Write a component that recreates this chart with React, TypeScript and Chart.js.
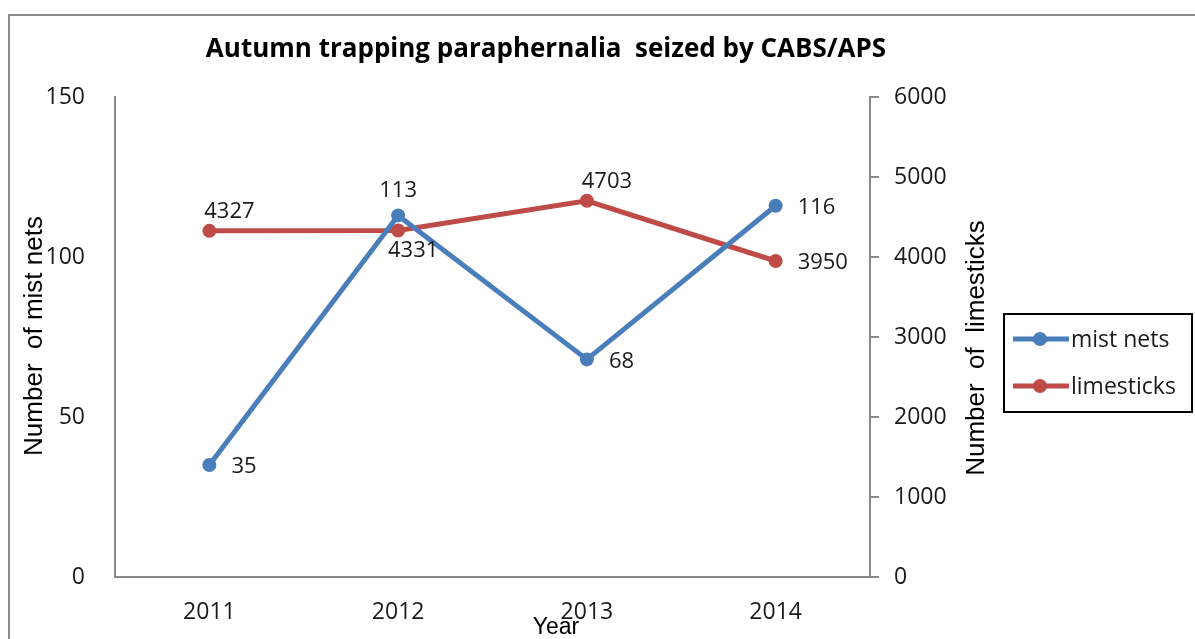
import React, { useEffect, useRef } from "react";
import { Chart, registerables } from "chart.js";

Chart.register(...registerables);

const years = ["2011", "2012", "2013", "2014"];
const mistNets = [35, 113, 68, 116];
const limesticks = [4327, 4331, 4703, 3950];
const mistNetsLabelPos = ["right", "above", "right", "right"];
const limesticksLabelPos = ["aboveRight", "belowRight", "aboveRight", "right"];

const TITLE = "Autumn trapping paraphernalia  seized by CABS/APS";
const LEFT_TITLE = "Number  of mist nets";
const RIGHT_TITLE = "Number  of  limesticks";
const X_TITLE = "Year";

const BLUE = "#4A7EBB";
const RED = "#BE4B48";
const AXIS = "#898989";
const TEXT = "#1a1a1a";
const TICK_FONT = "'Open Sans', 'Liberation Sans', sans-serif";

const overlay = {
  id: "overlay",
  afterDraw(chart: any) {
    const ctx = chart.ctx;
    ctx.save();
    // outer border
    ctx.strokeStyle = "#8c8c8c";
    ctx.lineWidth = 2;
    ctx.beginPath();
    ctx.moveTo(9, 660);
    ctx.lineTo(9, 15);
    ctx.lineTo(1210, 15);
    ctx.stroke();

    // title
    ctx.fillStyle = "#000";
    ctx.font = "bold 26px 'Open Sans', sans-serif";
    ctx.textAlign = "center";
    ctx.textBaseline = "middle";
    ctx.fillText(TITLE, 546, 50);

    // axis titles
    ctx.font = "26px 'Liberation Sans', Arial, sans-serif";
    ctx.save();
    ctx.translate(35, 336);
    ctx.rotate(-Math.PI / 2);
    ctx.fillText(LEFT_TITLE, 0, 0);
    ctx.restore();
    ctx.save();
    ctx.translate(977, 348);
    ctx.rotate(-Math.PI / 2);
    ctx.fillText(RIGHT_TITLE, 0, 0);
    ctx.restore();
    ctx.font = "23px 'Liberation Sans', Arial, sans-serif";
    ctx.fillText(X_TITLE, 556, 628);

    // data labels
    ctx.font = "22px " + TICK_FONT;
    ctx.fillStyle = TEXT;
    const drawLabels = (dsIndex: number, values: number[], pos: string[]) => {
      const meta = chart.getDatasetMeta(dsIndex);
      meta.data.forEach((pt: any, i: number) => {
        const p = pos[i];
        const txt = String(values[i]);
        if (p === "right") {
          ctx.textAlign = "left";
          ctx.fillText(txt, pt.x + 22, pt.y + 2);
        } else if (p === "above") {
          ctx.textAlign = "center";
          ctx.fillText(txt, pt.x, pt.y - 25);
        } else if (p === "aboveRight") {
          ctx.textAlign = "center";
          ctx.fillText(txt, pt.x + 20, pt.y - 19);
        } else if (p === "belowRight") {
          ctx.textAlign = "center";
          ctx.fillText(txt, pt.x + 15, pt.y + 20);
        }
      });
    };
    drawLabels(0, mistNets, mistNetsLabelPos);
    drawLabels(1, limesticks, limesticksLabelPos);

    // legend
    ctx.strokeStyle = "#000";
    ctx.lineWidth = 2;
    ctx.strokeRect(1004, 314, 188, 98);
    const items = [
      { label: "mist nets", color: BLUE, y: 339 },
      { label: "limesticks", color: RED, y: 386 },
    ];
    ctx.font = "23px " + TICK_FONT;
    items.forEach((it) => {
      ctx.strokeStyle = it.color;
      ctx.lineWidth = 5;
      ctx.beginPath();
      ctx.moveTo(1013, it.y);
      ctx.lineTo(1069, it.y);
      ctx.stroke();
      ctx.fillStyle = it.color;
      ctx.beginPath();
      ctx.arc(1040, it.y, 7, 0, Math.PI * 2);
      ctx.fill();
      ctx.fillStyle = TEXT;
      ctx.textAlign = "left";
      ctx.fillText(it.label, 1071, it.y + 1);
    });
    ctx.restore();
  },
};

export default function App() {
  const ref = useRef<HTMLCanvasElement>(null);
  useEffect(() => {
    document.body.style.margin = "0";
    const tickFont = { size: 23, family: TICK_FONT };
    const chart = new Chart(ref.current as HTMLCanvasElement, {
      type: "line",
      data: {
        labels: years,
        datasets: [
          {
            label: "mist nets",
            data: mistNets,
            borderColor: BLUE,
            backgroundColor: BLUE,
            borderWidth: 5,
            pointRadius: 7,
            pointBackgroundColor: BLUE,
            pointBorderWidth: 0,
            yAxisID: "y",
            tension: 0,
          },
          {
            label: "limesticks",
            data: limesticks,
            borderColor: RED,
            backgroundColor: RED,
            borderWidth: 5,
            pointRadius: 7,
            pointBackgroundColor: RED,
            pointBorderWidth: 0,
            yAxisID: "y2",
            tension: 0,
          },
        ],
      },
      options: {
        responsive: false,
        animation: false,
        layout: { padding: { top: 97, left: 0, right: 0, bottom: 0 } },
        plugins: {
          legend: { display: false },
          title: { display: false },
          tooltip: { enabled: false },
        },
        scales: {
          x: {
            type: "category",
            offset: true,
            grid: { display: false },
            border: { display: true, color: AXIS, width: 2 },
            ticks: {
              color: TEXT,
              font: tickFont,
              padding: 14,
              maxRotation: 0,
            },
            afterFit(scale: any) {
              scale.height = 62;
            },
          },
          y: {
            position: "left",
            min: 0,
            max: 150,
            grid: { display: false },
            border: { display: true, color: AXIS, width: 2 },
            ticks: {
              stepSize: 50,
              color: TEXT,
              font: tickFont,
              padding: 22,
              callback: (v: any) => String(v),
            },
            afterFit(scale: any) {
              scale.width = 115;
            },
          },
          y2: {
            position: "right",
            min: 0,
            max: 6000,
            grid: {
              display: true,
              drawOnChartArea: false,
              drawTicks: true,
              tickLength: 9,
              color: AXIS,
              lineWidth: 2,
            },
            border: { display: true, color: AXIS, width: 2 },
            ticks: {
              stepSize: 1000,
              color: TEXT,
              font: tickFont,
              padding: 15,
              callback: (v: any) => String(v),
            },
            afterFit(scale: any) {
              scale.width = 325;
            },
          },
        },
      },
      plugins: [overlay],
    });
    return () => chart.destroy();
  }, []);
  return (
    <div style={{ position: "absolute", left: 0, top: 0, width: 1195, height: 639, background: "#fff" }}>
      <canvas ref={ref} width={1195} height={639} style={{ display: "block" }} />
    </div>
  );
}
